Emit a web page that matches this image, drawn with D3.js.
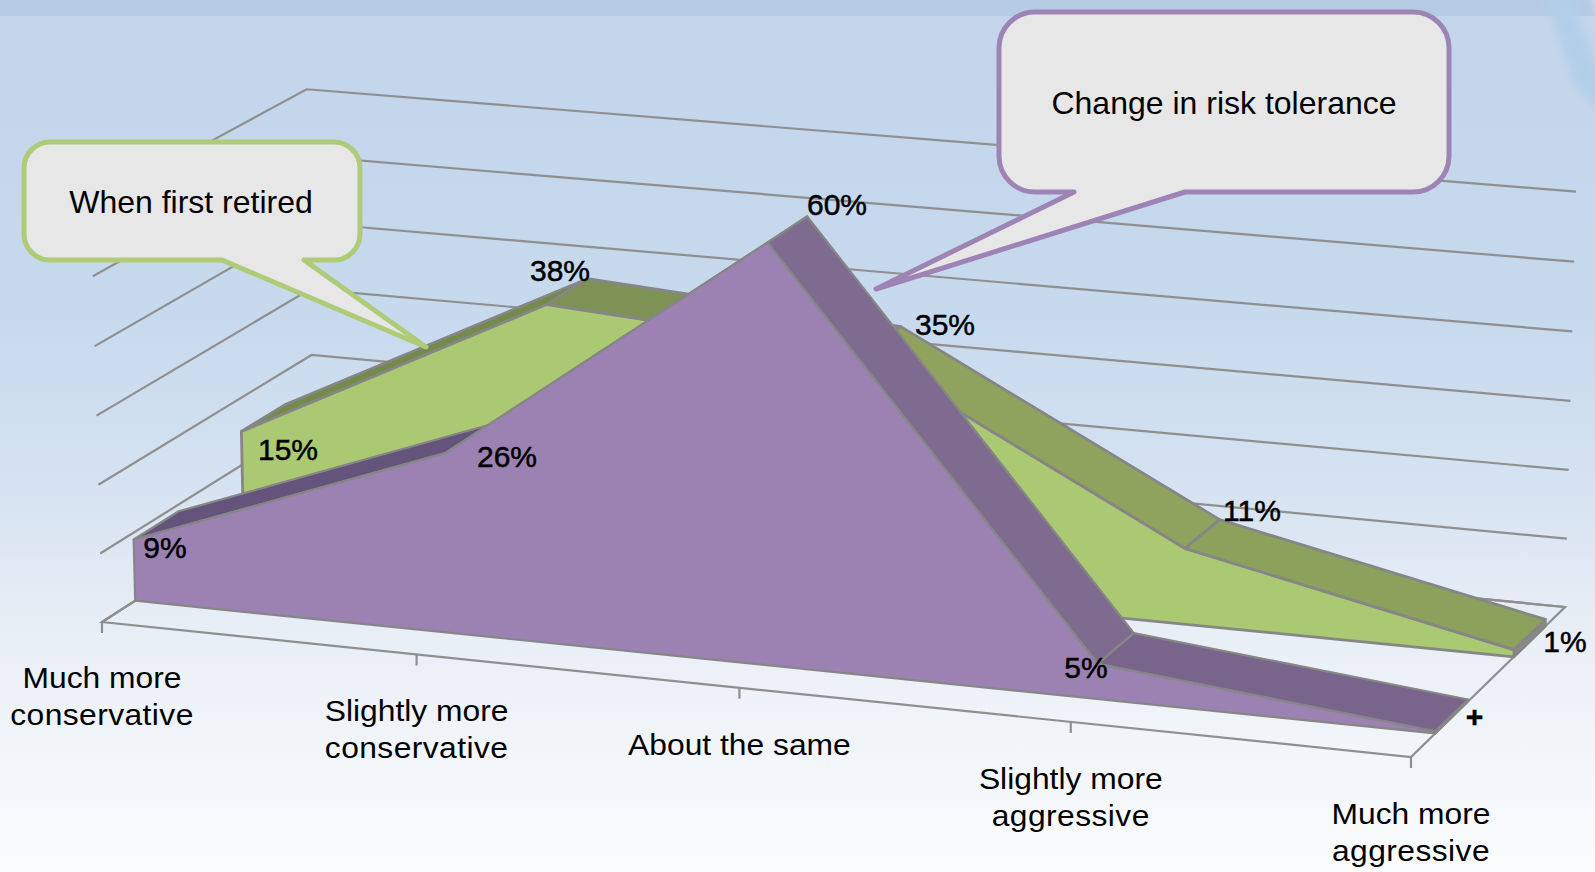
<!DOCTYPE html>
<html><head><meta charset="utf-8">
<script src="https://cdn.jsdelivr.net/npm/d3@7/dist/d3.min.js"></script>
<style>html,body{margin:0;padding:0;background:#fff;overflow:hidden}svg{display:block}text{font-family:"Liberation Sans",Arial,sans-serif;fill:#000}</style>
</head><body><svg id="c" width="1595" height="872"></svg>
<script>
const categories=[["Much more","conservative"],["Slightly more","conservative"],["About the same"],["Slightly more","aggressive"],["Much more","aggressive"]];
const whenFirstRetired=[15,38,35,11,1];
const changeInRiskTolerance=[9,26,60,5,0.3];
const valueTicks=[0,10,20,30,40,50,60];
const seriesNames=["When first retired","Change in risk tolerance"];

const svg=d3.select("#c");
const W=1595,H=872;
// background
const defs=svg.append("defs");
const bg=defs.append("linearGradient").attr("id","bg").attr("x1",0).attr("y1",0).attr("x2",0).attr("y2",1);
[[0,"#c0d4ea"],[.02,"#c2d5eb"],[.35,"#c6d9ed"],[.55,"#d5e2f1"],[.7,"#e6edf6"],[.85,"#f1f5f9"],[1,"#fbfcfd"]].forEach(s=>bg.append("stop").attr("offset",s[0]).attr("stop-color",s[1]));
defs.append("filter").attr("id","soft").attr("x","-50%").attr("y","-50%").attr("width","200%").attr("height","200%").append("feGaussianBlur").attr("stdDeviation",4);
svg.append("rect").attr("width",W).attr("height",H).attr("fill","url(#bg)");
svg.append("rect").attr("width",W).attr("height",16).attr("fill","#b5cbe4");
const swoosh=d3.line();
svg.append("path").attr("d",swoosh([[1590,-10],[1610,-10],[1610,60]])+"Z").attr("fill","#cbdced").attr("filter","url(#soft)");
svg.append("path").attr("d",swoosh([[1545,-5],[1568,-5],[1600,70],[1600,112],[1575,85]])+"Z").attr("fill","#b3cfe8").attr("filter","url(#soft)");

// camera calibration: corners of floor & wall
const cal={F0:[102,622],F1:[1411,757],B0:[314,486],B1:[1565,607],topF0:[91,206],topB1:[1576,192],topB0:[314,89]};
function squareToQuad(p00,p10,p11,p01){
  const [x0,y0]=p00,[x1,y1]=p10,[x2,y2]=p11,[x3,y3]=p01;
  const dx1=x1-x2,dx2=x3-x2,dx3=x0-x1+x2-x3,dy1=y1-y2,dy2=y3-y2,dy3=y0-y1+y2-y3;
  const den=dx1*dy2-dx2*dy1;
  const g=(dx3*dy2-dx2*dy3)/den,h=(dx1*dy3-dx3*dy1)/den;
  return [[x1-x0+g*x1,x3-x0+h*x3,x0],[y1-y0+g*y1,y3-y0+h*y3,y0],[g,h,1]];
}
const Hm=squareToQuad(cal.F0,cal.F1,cal.B1,cal.B0);
const wAt=(u,d)=>Hm[2][0]*u+Hm[2][1]*d+1;
// vertical column of camera (unit value = full 0..1 height)
const rF=(cal.topF0[0]-cal.F0[0])*wAt(0,0), rB=(cal.topB1[0]-cal.B1[0])*wAt(1,1);
const cV=(rF-rB)/(cal.topB1[0]-cal.topF0[0]);
const aV=rF+cal.topF0[0]*cV;
const bV=d3.mean([[cal.topF0,cal.F0,0,0],[cal.topB1,cal.B1,1,1],[cal.topB0,cal.B0,0,1]],e=>(e[0][1]-e[1][1])*wAt(e[2],e[3])+e[0][1]*cV);
function project(u,d,t){
  const w=wAt(u,d)+t*cV;
  return [(Hm[0][0]*u+Hm[0][1]*d+Hm[0][2]+t*aV)/w,(Hm[1][0]*u+Hm[1][1]*d+Hm[1][2]+t*bV)/w];
}
const xCat=d3.scalePoint().domain(d3.range(categories.length)).range([0,1]);
const yVal=d3.scaleLinear().domain([0,60]).range([0,1]);
const P=(i,d,v)=>project(xCat(i),d,yVal(v));
const line=d3.line();
const GRID="#8f8f8f";
const gridG=svg.append("g").attr("fill","none").attr("stroke",GRID).attr("stroke-width",2.2);
valueTicks.forEach(v=>{
  gridG.append("path").attr("d",line([P(0,0,v),P(0,1,v),P(4,1,v)]));
});
// floor edges
const floorG=svg.append("g").attr("fill","none").attr("stroke",GRID).attr("stroke-width",2.2);
floorG.append("path").attr("d",line([P(0,1,0),P(4,1,0),P(4,0,0),P(0,0,0),P(0,1,0)]));
categories.forEach((c,i)=>{
  const p=P(i,0,0);
  floorG.append("line").attr("x1",p[0]).attr("y1",p[1]).attr("x2",p[0]).attr("y2",p[1]+11);
});
// 3D ribbons
function ribbon(values,dFront,dBack,frontCol,topCols,capCol,sw){
  const g=svg.append("g").attr("stroke","#868686").attr("stroke-linejoin","round").attr("stroke-width",sw);
  const n=values.length-1;
  g.append("path").attr("d",line([P(n,dFront,0),P(n,dBack,0),P(n,dBack,values[n]),P(n,dFront,values[n])])+"Z").attr("fill",capCol);
  d3.pairs(d3.range(values.length)).forEach(([a,b],k)=>{
    g.append("path").attr("d",line([P(a,dFront,values[a]),P(a,dBack,values[a]),P(b,dBack,values[b]),P(b,dFront,values[b])])+"Z").attr("fill",topCols[k]);
  });
  const front=[P(0,dFront,0),...values.map((v,i)=>P(i,dFront,v)),P(n,dFront,0)];
  g.append("path").attr("d",line(front)+"Z").attr("fill",frontCol);
}
ribbon(whenFirstRetired,.656,.865,"#abc873",["#748a48","#7e9256","#8fa35e","#8ca25c"],"#8a8a8a",2.8);
ribbon(changeInRiskTolerance,.15,.357,"#9b82b2",["#64537a","#6d5a82","#7f6b90","#79658c"],"#8a8a8a",2.2);

// tick labels
const tickLabels=svg.append("g").attr("font-size",30).attr("text-anchor","middle").style("fill","#111");
categories.forEach((c,i)=>{
  const p=P(i,0,0);
  c.forEach((s,j)=>tickLabels.append("text").attr("transform",`translate(${p[0]},${p[1]+(i?67:65.5)+j*37}) scale(1.06,1)`).attr("letter-spacing",j?0.4:0).text(s));
});
// data labels
const fmt=v=>v<0.5?"+":v+"%";
const labelPos=[[[288,460],[560,281],[945,335],[1252,521],[1565,652]],[[165,558],[507,467],[837,215],[1086,678],[1474.5,727]]];
const labG=svg.append("g").attr("font-size",30).attr("text-anchor","middle").attr("stroke","#000").attr("stroke-width",.5);
[whenFirstRetired,changeInRiskTolerance].forEach((vals,s)=>vals.forEach((v,i)=>{
  labG.append("text").attr("x",labelPos[s][i][0]).attr("y",labelPos[s][i][1]).attr("font-weight",fmt(v)==="+"?"bold":"normal").text(fmt(v));
}));
// callouts
function callout(x0,y0,x1,y1,r,tRight,tip,tLeft,col,text,tx,ty){
  const a=d3.path();
  a.moveTo(x0+r,y0);a.lineTo(x1-r,y0);a.arcTo(x1,y0,x1,y0+r,r);a.lineTo(x1,y1-r);a.arcTo(x1,y1,x1-r,y1,r);
  a.lineTo(tRight,y1);a.lineTo(tip[0],tip[1]);a.lineTo(tLeft,y1);a.lineTo(x0+r,y1);a.arcTo(x0,y1,x0,y1-r,r);a.lineTo(x0,y0+r);a.arcTo(x0,y0,x0+r,y0,r);a.closePath();
  svg.append("path").attr("d",a.toString()).attr("fill","#e7e7e7").attr("stroke",col).attr("stroke-width",5).attr("stroke-linejoin","round");
  svg.append("text").attr("x",tx).attr("y",ty).attr("font-size",32).attr("text-anchor","middle").text(text);
}
callout(24,142,360,260,26,304,[426,347],222,"#afcb78",seriesNames[0],191,213);
callout(999,12,1449,192,36,1185,[876,289],1074,"#9e83b5",seriesNames[1],1224,114);
</script></body></html>
